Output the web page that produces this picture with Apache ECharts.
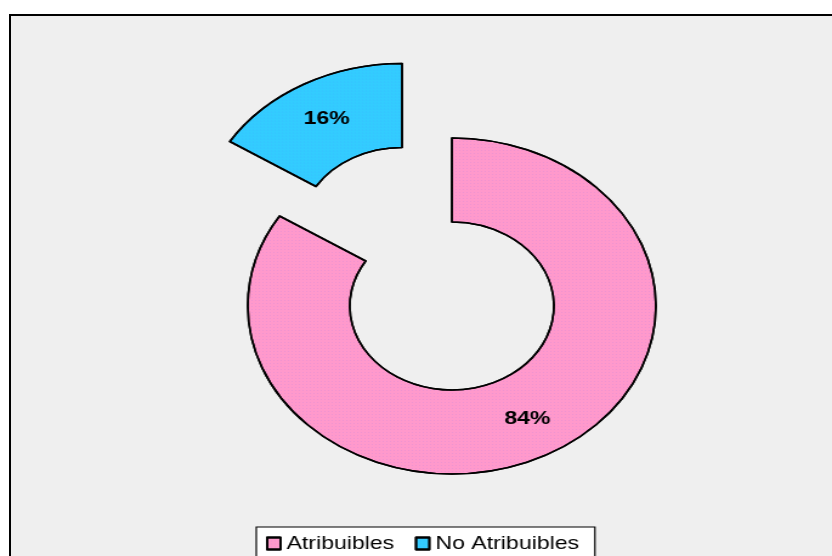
<!DOCTYPE html>
<html>
<head>
<meta charset="utf-8">
<script src="https://cdn.jsdelivr.net/npm/echarts@6/dist/echarts.min.js"></script>
<style>
  html, body { margin: 0; padding: 0; background: #fff; }
  .page { position: relative; width: 832px; height: 556px; overflow: hidden; }
  .frame {
    position: absolute; left: 9px; top: 14px; width: 840px; height: 560px;
    border: 2px solid #000; background: #efefef;
  }
  /* the reference is stretched sideways, so the chart is drawn narrow and widened */
  #main {
    position: absolute; left: 0; top: 0; width: 685px; height: 556px;
    transform: scaleX(1.2146); transform-origin: 0 0;
  }
</style>
</head>
<body>
<div class="page">
  <div class="frame"></div>
  <div id="main"></div>
</div>
<script>
// datos del gráfico
const categorias = ['Atribuibles', 'No Atribuibles']
const valores = [84, 16]
const colores = ['#ff99cc', '#33ccff']

const myChart = echarts.init(document.getElementById('main'))

const option = {
  animation: false,
  legend: {
    data: categorias,
    left: 211,
    top: 527,
    orient: 'horizontal',
    backgroundColor: '#fff',
    borderColor: '#000',
    borderWidth: 1.2,
    padding: [7, 13, 20, 8],
    itemGap: 17,
    itemWidth: 11,
    itemHeight: 12,
    icon: 'rect',
    itemStyle: { borderColor: '#000', borderWidth: 1.8 },
    textStyle: {
      fontFamily: 'Liberation Sans, Arial, sans-serif',
      fontSize: 19,
      color: '#000',
      padding: [0, 0, 0, 0]
    }
  },
  series: [
    {
      type: 'pie',
      center: [372, 306],
      radius: [84, 168],
      startAngle: 90,
      clockwise: true,
      selectedMode: 'single',
      selectedOffset: 85,
      emphasis: { disabled: true },
      label: {
        show: true,
        position: 'inside',
        formatter: '{c}%',
        fontFamily: 'Liberation Sans, Arial, sans-serif',
        fontWeight: 'bold',
        fontSize: 19,
        color: '#000'
      },
      labelLine: { show: false },
      itemStyle: { borderColor: '#000', borderWidth: 1.6 },
      data: categorias.map((c, i) => ({
        name: c,
        value: valores[i],
        selected: i === 1,
        itemStyle: {
          color: colores[i],
          decal: {
            symbol: 'rect',
            symbolSize: 0.5,
            dashArrayX: [1, 2],
            dashArrayY: [1, 2],
            color: 'rgba(110,120,255,0.45)'
          }
        }
      }))
    }
  ]
}

myChart.setOption(option)
</script>
</body>
</html>
